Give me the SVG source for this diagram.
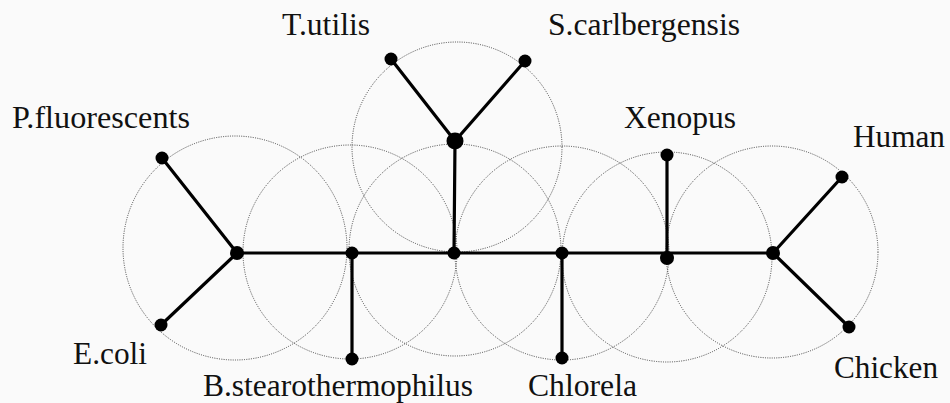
<svg xmlns="http://www.w3.org/2000/svg" width="950" height="403" viewBox="0 0 950 403">
<style>
.ring{fill:none;stroke:#444;stroke-width:1;stroke-dasharray:1 1.3}
.edge{stroke:#000;stroke-width:3.2;stroke-linecap:round}
.dot{fill:#000}
.lbl{font-family:"Liberation Serif","Times New Roman",serif;font-size:31px;fill:#111}
</style>
<rect width="950" height="403" fill="#fafafa"/>
<g id="rings">
<circle class="ring" cx="235" cy="248" r="112"/>
<circle class="ring" cx="350" cy="252" r="107"/>
<circle class="ring" cx="457" cy="147" r="105"/>
<circle class="ring" cx="455" cy="250" r="106"/>
<circle class="ring" cx="562" cy="253" r="107"/>
<circle class="ring" cx="667" cy="257" r="105"/>
<circle class="ring" cx="772" cy="252" r="106"/>
</g>
<g id="connectors">
<line class="edge" x1="237" y1="253" x2="773" y2="253"/>
<line class="edge" x1="237" y1="253" x2="162" y2="158"/>
<line class="edge" x1="237" y1="253" x2="161" y2="325"/>
<line class="edge" x1="352" y1="253" x2="352" y2="359"/>
<line class="edge" x1="454" y1="253" x2="455" y2="141"/>
<line class="edge" x1="455" y1="141" x2="391" y2="59"/>
<line class="edge" x1="455" y1="141" x2="525" y2="61"/>
<line class="edge" x1="562" y1="253" x2="562" y2="358"/>
<line class="edge" x1="667" y1="258" x2="667" y2="155"/>
<line class="edge" x1="773" y1="253" x2="842" y2="177"/>
<line class="edge" x1="773" y1="253" x2="849" y2="327"/>
</g>
<g id="node-internal-a"><circle class="dot" cx="237" cy="253" r="7"/></g>
<g id="node-internal-b"><circle class="dot" cx="352" cy="253" r="6.5"/></g>
<g id="node-internal-c"><circle class="dot" cx="454" cy="253" r="6.5"/></g>
<g id="node-internal-t"><circle class="dot" cx="455" cy="141" r="8.5"/></g>
<g id="node-internal-d"><circle class="dot" cx="562" cy="253" r="6.5"/></g>
<g id="node-internal-e"><circle class="dot" cx="667" cy="258" r="7"/></g>
<g id="node-internal-f"><circle class="dot" cx="773" cy="253" r="7"/></g>
<g id="node-pfluorescents"><circle class="dot" cx="162" cy="158" r="6.5"/><text class="lbl" x="12" y="128" textLength="178" lengthAdjust="spacingAndGlyphs">P.fluorescents</text></g>
<g id="node-ecoli"><circle class="dot" cx="161" cy="325" r="6.5"/><text class="lbl" x="73" y="364" textLength="74" lengthAdjust="spacingAndGlyphs">E.coli</text></g>
<g id="node-bstearothermophilus"><circle class="dot" cx="352" cy="359" r="6.5"/><text class="lbl" x="203" y="396" textLength="270" lengthAdjust="spacingAndGlyphs">B.stearothermophilus</text></g>
<g id="node-tutilis"><circle class="dot" cx="391" cy="59" r="6.5"/><text class="lbl" x="282" y="35" textLength="88" lengthAdjust="spacingAndGlyphs">T.utilis</text></g>
<g id="node-scarlbergensis"><circle class="dot" cx="525" cy="61" r="6.5"/><text class="lbl" x="548" y="35" textLength="192" lengthAdjust="spacingAndGlyphs">S.carlbergensis</text></g>
<g id="node-chlorela"><circle class="dot" cx="562" cy="358" r="6.5"/><text class="lbl" x="528" y="396" textLength="109" lengthAdjust="spacingAndGlyphs">Chlorela</text></g>
<g id="node-xenopus"><circle class="dot" cx="667" cy="155" r="6.5"/><text class="lbl" x="624" y="128" textLength="112" lengthAdjust="spacingAndGlyphs">Xenopus</text></g>
<g id="node-human"><circle class="dot" cx="842" cy="177" r="6.5"/><text class="lbl" x="853" y="147" textLength="92" lengthAdjust="spacingAndGlyphs">Human</text></g>
<g id="node-chicken"><circle class="dot" cx="849" cy="327" r="6.5"/><text class="lbl" x="834" y="378" textLength="104" lengthAdjust="spacingAndGlyphs">Chicken</text></g>
</svg>
